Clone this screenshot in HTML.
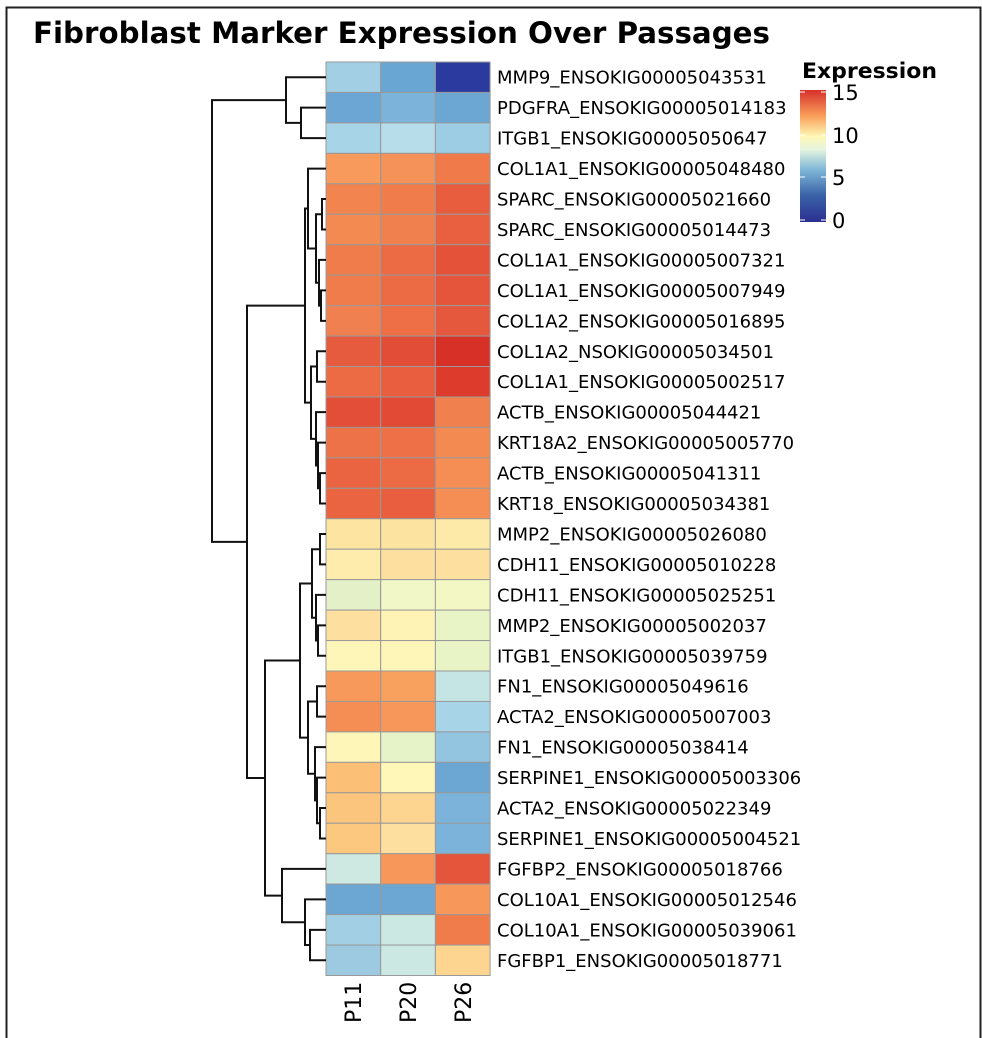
<!DOCTYPE html>
<html><head><meta charset="utf-8"><style>
body{margin:0;background:#fff}
svg{display:block;font-family:"DejaVu Sans","Liberation Sans",sans-serif}
</style></head><body>
<svg id="s" width="982" height="1038" xmlns="http://www.w3.org/2000/svg">
<defs><linearGradient id="cb" x1="0" y1="1" x2="0" y2="0">
<stop offset="0" stop-color="#2b2f8f"/><stop offset="0.2" stop-color="#3a62a8"/><stop offset="0.4" stop-color="#80b8d8"/><stop offset="0.55" stop-color="#e6f4df"/><stop offset="0.65" stop-color="#fef7b4"/><stop offset="0.8" stop-color="#f9a05c"/><stop offset="1" stop-color="#d7302a"/></linearGradient></defs>
<path d="M6.5 1038 V7.5 H980.5 V1038" fill="none" stroke="#222" stroke-width="2"/>
<text x="33" y="43" font-size="29" font-weight="bold" textLength="737" lengthAdjust="spacingAndGlyphs">Fibroblast Marker Expression Over Passages</text>
<g id="hm"></g><g id="dd" stroke="#111" stroke-width="2" fill="none"></g>
<text x="802" y="78" font-size="21" font-weight="bold" textLength="135" lengthAdjust="spacingAndGlyphs">Expression</text>
<rect x="800" y="90" width="26" height="132" fill="url(#cb)"/>
<g stroke="#fff" stroke-width="1"><path d="M800 92h5M821 92h5M800 135h5M821 135h5M800 177h5M821 177h5M800 220h5M821 220h5"/></g>
<g font-size="21"><text x="832" y="100">15</text><text x="832" y="143">10</text><text x="832" y="185">5</text><text x="832" y="228">0</text></g>
<g font-size="22"><text transform="translate(361,1023) rotate(-90)">P11</text><text transform="translate(416,1023) rotate(-90)">P20</text><text transform="translate(471,1023) rotate(-90)">P26</text></g>
</svg>
<script>
var C=[["#a3cfe5","#6aa6d3","#2b3a9e"],["#6ba6d4","#7bb3da","#6ca7d4"],["#a8d4e8","#b6dde9","#9ccde4"],["#f79a5c","#f5925a","#f07a4a"],["#f28450","#f07c4b","#e85d3e"],["#f38a52","#f0804d","#e8603f"],["#f07c4b","#ec6a44","#e4523a"],["#f07c4b","#ec6a44","#e5553b"],["#f08050","#ee6e46","#e6583d"],["#e65a3d","#e24d38","#d73027"],["#ec6a44","#e85e3f","#dd3c2d"],["#e24e38","#e24a36","#f0804d"],["#ee7248","#ee7046","#f38a52"],["#ea6441","#ec6a44","#f58e55"],["#ea6441","#e85e3f","#f58e55"],["#fde4a0","#fde3a0","#fdeaa8"],["#fdecab","#fde0a0","#fde0a0"],["#e4f0c8","#f2f7c8","#f2f7c4"],["#fde0a0","#fef3b5","#e8f3c6"],["#fef6b8","#fef6b8","#e8f3c6"],["#f7995a","#f8a05e","#c5e5e4"],["#f58e55","#f7985a","#a8d4e8"],["#fef6b8","#e6f2c8","#93c4e0"],["#fcbf76","#fef7b8","#6ca7d4"],["#fcc57e","#fdd590","#7bb3da"],["#fcc880","#fde0a0","#7bb3da"],["#cde9e2","#f7985a","#e5553b"],["#6ca7d4","#6ca7d4","#f7985a"],["#a3cfe5","#cbe8e2","#f07c4b"],["#9ecae1","#cbe8e2","#fdd590"]];
var L=["MMP9_ENSOKIG00005043531","PDGFRA_ENSOKIG00005014183","ITGB1_ENSOKIG00005050647","COL1A1_ENSOKIG00005048480","SPARC_ENSOKIG00005021660","SPARC_ENSOKIG00005014473","COL1A1_ENSOKIG00005007321","COL1A1_ENSOKIG00005007949","COL1A2_ENSOKIG00005016895","COL1A2_NSOKIG00005034501","COL1A1_ENSOKIG00005002517","ACTB_ENSOKIG00005044421","KRT18A2_ENSOKIG00005005770","ACTB_ENSOKIG00005041311","KRT18_ENSOKIG00005034381","MMP2_ENSOKIG00005026080","CDH11_ENSOKIG00005010228","CDH11_ENSOKIG00005025251","MMP2_ENSOKIG00005002037","ITGB1_ENSOKIG00005039759","FN1_ENSOKIG00005049616","ACTA2_ENSOKIG00005007003","FN1_ENSOKIG00005038414","SERPINE1_ENSOKIG00005003306","ACTA2_ENSOKIG00005022349","SERPINE1_ENSOKIG00005004521","FGFBP2_ENSOKIG00005018766","COL10A1_ENSOKIG00005012546","COL10A1_ENSOKIG00005039061","FGFBP1_ENSOKIG00005018771"];
var NS="http://www.w3.org/2000/svg",hm=document.getElementById("hm"),X0=326,W=54.7,Y0=62,H=30.45;
function el(t,a,p,tx){var e=document.createElementNS(NS,t);for(var k in a)e.setAttribute(k,a[k]);if(tx)e.textContent=tx;p.appendChild(e);return e;}
for(var i=0;i<30;i++){for(var j=0;j<3;j++)el("rect",{x:X0+j*W,y:Y0+i*H,width:W,height:H,fill:C[i][j],stroke:"#999","stroke-width":1},hm);
el("text",{x:497,y:Y0+i*H+H/2+6.5,"font-size":"18"},hm,L[i]);}
function N(a,b,x){return{a:a,b:b,x:x};}
var T=N(
 N(0,N(1,2,301),286),
 N(
  N(N(3,N(N(4,5,322),N(6,N(7,8,321),319),316),308),
    N(N(9,10,317),N(11,N(12,N(13,14,320),318),316),311),305),
  N(
   N(N(N(15,16,320),N(17,N(18,19,318),316),312),
     N(N(20,21,317),N(22,N(23,N(24,25,320),317),315),308),300),
   N(26,N(27,N(28,29,310),305),282),265),
 247),212);
var dd=document.getElementById("dd"),LX=326;
function draw(n){if(typeof n=="number")return{y:Y0+(n+0.5)*H,x:LX};
var A=draw(n.a),B=draw(n.b);
el("path",{d:"M"+A.x+" "+A.y+"H"+n.x+"V"+B.y+"H"+B.x},dd);
return{y:(A.y+B.y)/2,x:n.x};}
draw(T);
</script>
</body></html>
